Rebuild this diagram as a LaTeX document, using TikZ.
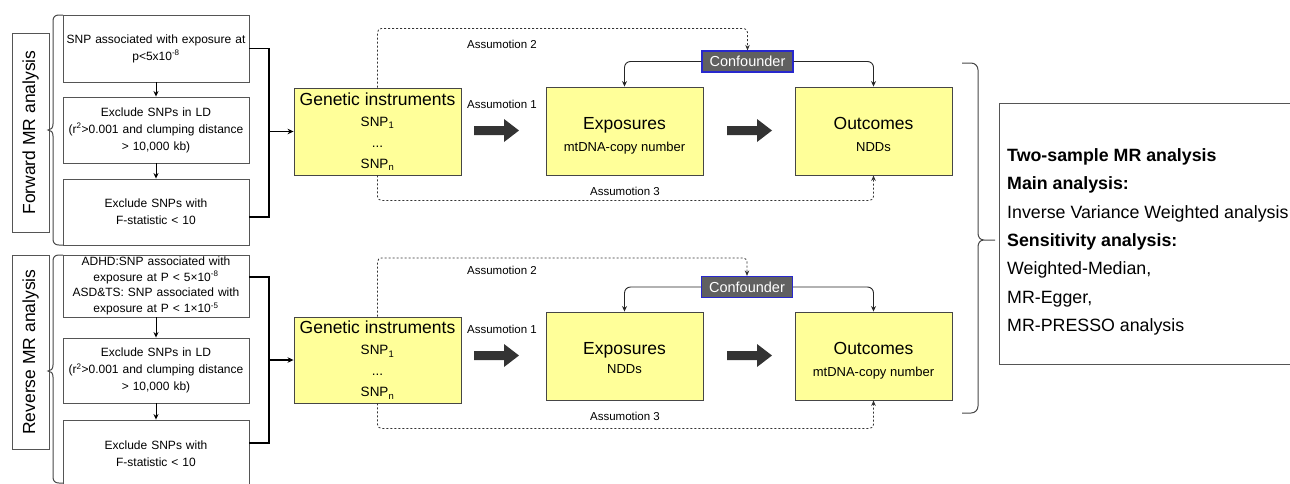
\documentclass[tikz,border=0pt]{standalone}
\usepackage{fontspec}
\setmainfont{Liberation Sans}
\usetikzlibrary{arrows.meta,calc}
\definecolor{boxline}{RGB}{85,85,85}
\definecolor{yline}{RGB}{70,70,70}
\definecolor{yfill}{RGB}{255,255,153}
\definecolor{conffill}{RGB}{96,96,96}
\definecolor{confline}{RGB}{40,40,205}
\definecolor{arrowfill}{RGB}{51,51,51}
\definecolor{bracecol}{RGB}{70,70,70}
\begin{document}
\begin{tikzpicture}[x=1pt,y=-1pt,
  every node/.style={inner sep=0pt},
  stepbox/.style={draw=boxline, line width=0.9pt, minimum width=186pt, text width=184pt, align=center, font=\fontsize{12}{17}\selectfont},
  sidebox/.style={draw=boxline, line width=0.9pt, rotate=90, minimum height=37pt, font=\fontsize{17.5}{20}\selectfont},
  ybox/.style={draw=yline, fill=yfill, line width=0.9pt, minimum width=157pt, minimum height=88pt},
  genbox/.style={draw=yline, fill=yfill, line width=0.9pt, minimum width=167pt},
  gentext/.style={anchor=north, align=center, font=\fontsize{13.5}{21}\selectfont},
  conf/.style={draw=confline, fill=conffill, line width=1.2pt, minimum width=91pt, minimum height=21pt, text=white, font=\fontsize{14.5}{16}\selectfont},
  asm/.style={font=\fontsize{11.5}{13}\selectfont},
  title/.style={font=\fontsize{17.5}{20}\selectfont, anchor=base},
  subtitle/.style={font=\fontsize{13}{15}\selectfont, anchor=base},
  joinline/.style={line width=1.5pt, draw=black},
  smallarrow/.style={line width=0.9pt, draw=black, -{Stealth[length=5.5pt,width=5pt]}},
  feed/.style={line width=1.5pt, draw=black, -{Stealth[length=6pt,width=5.5pt]}},
  dashline/.style={line width=0.8pt, draw=black!80, dash pattern=on 2pt off 2pt, rounded corners=4pt, -{Stealth[length=5.5pt,width=4.5pt]}},
  confarrow/.style={line width=0.9pt, draw=black!85, rounded corners=6pt, -{Stealth[length=5.5pt,width=5pt]}},
  bracepath/.style={line width=1pt, draw=bracecol},
  fatarrow/.pic={\fill[arrowfill] (0,-4.5) -- (30,-4.5) -- (30,-11.5) -- (45,0) -- (30,11.5) -- (30,4.5) -- (0,4.5) -- cycle;}
]
\useasboundingbox (0,0) rectangle (1290,483);
\clip (0,0) rectangle (1290,483);

% ---------- left labels ----------
\node[sidebox, minimum width=199pt] (fwd) at (30.5,132.5) {Forward MR analysis};
\node[sidebox, minimum width=194pt] (rev) at (30.5,352) {Reverse MR analysis};

% ---------- left braces ----------
\draw[bracepath] (63,15) -- (59,15) .. controls (55,15) and (53,17) .. (53,21) -- (53,124)
  .. controls (53,128) and (51,130) .. (48,130) .. controls (51,130) and (53,132) .. (53,136)
  -- (53,239) .. controls (53,243) and (55,245) .. (59,245) -- (63,245);
\draw[bracepath] (63,255) -- (59,255) .. controls (55,255) and (53,257) .. (53,261) -- (53,365)
  .. controls (53,369) and (51,371) .. (48,371) .. controls (51,371) and (53,373) .. (53,377)
  -- (53,477) .. controls (53,481) and (55,483) .. (59,483) -- (63,483);

% ---------- forward step boxes ----------
\node[stepbox, minimum height=67pt] (b1) at (156,48.5) {SNP associated with exposure at\\ p<5x10\textsuperscript{-8}};
\node[stepbox, minimum height=66pt] (b2) at (156,130) {Exclude SNPs in LD\\ (r\textsuperscript{2}>0.001 and clumping distance\\ > 10,000 kb)};
\node[stepbox, minimum height=66pt] (b3) at (156,212) {Exclude SNPs with\\ F-statistic < 10};
\draw[smallarrow] (b1) -- (b2);
\draw[smallarrow] (b2) -- (b3);

% ---------- reverse step boxes ----------
\node[stepbox, minimum height=62pt, font=\fontsize{12}{15.6}\selectfont] (r1) at (156,286) {ADHD:SNP associated with\\ exposure at P < 5×10\textsuperscript{-8}\\ ASD\&TS: SNP associated with\\ exposure at P < 1×10\textsuperscript{-5}};
\node[stepbox, minimum height=65pt] (r2) at (156,370.5) {Exclude SNPs in LD\\ (r\textsuperscript{2}>0.001 and clumping distance\\ > 10,000 kb)};
\node[stepbox, minimum height=67pt] (r3) at (156,453.5) {Exclude SNPs with\\ F-statistic < 10};
\draw[smallarrow] (r1) -- (r2);
\draw[smallarrow] (r2) -- (r3);

% ---------- forward main row ----------
\node[genbox, minimum height=87pt] (gen1) at (377.5,131.5) {};
\node[gentext] (gt1) at ([yshift=39pt]gen1.center) {{\fontsize{17.5}{21}\selectfont Genetic instruments}\\ SNP\textsubscript{1}\\ ...\\ SNP\textsubscript{n}};
\node[ybox] (exp1) at (624.5,131) {};
\node[title] (et1) at ([yshift=2pt]exp1.center) {Exposures};
\node[subtitle] (es1) at ([yshift=-20pt]exp1.center) {mtDNA-copy number};
\node[ybox] (out1) at (873.5,131) {};
\node[title] (ot1) at ([yshift=2pt]out1.center) {Outcomes};
\node[subtitle] (os1) at ([yshift=-20pt]out1.center) {NDDs};
\node[conf] (conf1) at (747.5,61.5) {Confounder};

\coordinate (j1) at (269,131.5);
\draw[joinline] (b1.east) -| (j1) |- ([yshift=-5pt]b3.east);
\draw[feed] (j1) -- (gen1.west);

\pic at (474,130.5) {fatarrow};
\pic at (727,130.5) {fatarrow};

\draw[dashline] (gen1.north) |- ([yshift=22pt]conf1.north) -- (conf1.north);
\draw[dashline] (gen1.south) |- ([yshift=-25pt]out1.south) -- (out1.south);
\draw[confarrow] (conf1.west) -| (exp1.north);
\draw[confarrow] (conf1.east) -| (out1.north);

\node[asm] (a2f) at (502,44) {Assumotion 2};
\node[asm] (a1f) at (502,104) {Assumotion 1};
\node[asm] (a3f) at (625,191) {Assumotion 3};

% ---------- reverse main row ----------
\node[genbox, minimum height=86pt] (gen2) at (377.5,360) {};
\node[gentext] (gt2) at ([yshift=39pt]gen2.center) {{\fontsize{17.5}{21}\selectfont Genetic instruments}\\ SNP\textsubscript{1}\\ ...\\ SNP\textsubscript{n}};
\node[ybox] (exp2) at (624.5,356) {};
\node[title] (et2) at ([yshift=2pt]exp2.center) {Exposures};
\node[subtitle] (es2) at ([yshift=-17pt]exp2.center) {NDDs};
\node[ybox] (out2) at (873.5,356) {};
\node[title] (ot2) at ([yshift=2pt]out2.center) {Outcomes};
\node[subtitle] (os2) at ([yshift=-20pt]out2.center) {mtDNA-copy number};
\node[conf] (conf2) at (747,287) {Confounder};

\coordinate (j2) at (269,360);
\draw[joinline] ([yshift=9pt]r1.east) -| (j2) |- ([yshift=10.5pt]r3.east);
\draw[feed] (j2) -- (gen2.west);

\pic at (474,355.5) {fatarrow};
\pic at (727,355.5) {fatarrow};

\draw[dashline] (gen2.north) |- ([yshift=18pt]conf2.north) -- (conf2.north);
\draw[dashline] (gen2.south) |- ([yshift=-28pt]out2.south) -- (out2.south);
\draw[confarrow] (conf2.west) -| (exp2.north);
\draw[confarrow] (conf2.east) -| (out2.north);

\node[asm] (a2r) at (502,270) {Assumotion 2};
\node[asm] (a1r) at (502,329) {Assumotion 1};
\node[asm] (a3r) at (625,416) {Assumotion 3};

% ---------- right brace ----------
\draw[bracepath] (962,63) -- (971,63) .. controls (975,63) and (978,66) .. (978,70) -- (978,233)
  .. controls (978,237) and (980,240) .. (984,240) -- (995,240)
  (984,240) .. controls (980,240) and (978,243) .. (978,247)
  -- (978,406) .. controls (978,410) and (975,413) .. (971,413) -- (962,413);

% ---------- methods box ----------
\node[draw=boxline, line width=0.9pt, minimum width=300pt, minimum height=261pt, anchor=north west] (mbox) at (999,103) {};
\node[anchor=north west, align=left, font=\fontsize{17.8}{28.3}\selectfont] (mtext) at (1007,148.5)
  {\textbf{Two-sample MR analysis}\\ \textbf{Main analysis:}\\ Inverse Variance Weighted analysis\\ \textbf{Sensitivity analysis:}\\ Weighted-Median,\\ MR-Egger,\\ MR-PRESSO analysis};
\end{tikzpicture}
\end{document}
